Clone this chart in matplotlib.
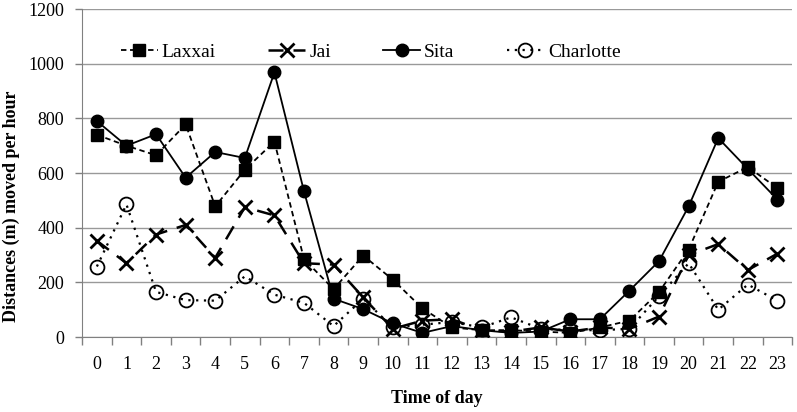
import matplotlib.pyplot as plt
import numpy as np

plt.rcParams['font.family'] = ['Liberation Serif', 'DejaVu Serif']

hours = list(range(24))
laxxai = [740, 700, 665, 778, 478, 612, 715, 285, 175, 298, 210, 105,
          35, 25, 25, 20, 15, 35, 60, 165, 320, 568, 622, 545]
jai = [352, 270, 375, 410, 290, 475, 445, 270, 265, 145, 30, 60,
       65, 25, 20, 35, 20, 35, 30, 75, 300, 340, 245, 305]
sita = [790, 700, 742, 583, 677, 655, 968, 533, 140, 102, 50, 15,
        40, 25, 15, 20, 65, 65, 170, 278, 478, 728, 615, 503]
charlotte = [258, 485, 165, 135, 133, 222, 155, 125, 40, 140, 35, 45,
             55, 35, 72, 30, 25, 25, 30, 150, 270, 100, 192, 133]

fig = plt.figure(figsize=(7.97, 4.12), dpi=100)
ax = fig.add_axes([0.103, 0.182, 0.891, 0.796])

x = np.array(hours)
ax.plot(x, laxxai, color='black', lw=1.3, ls=(0, (3, 2)), marker='s', ms=9,
        label='Laxxai', zorder=3)
ax.plot(x, jai, color='black', lw=1.8, ls=(0, (6, 4)), marker='x', ms=10, mew=2,
        label='Jai', zorder=3)
ax.plot(x, sita, color='black', lw=1.3, ls='-', marker='o', ms=9,
        label='Sita', zorder=3)
ax.plot(x, charlotte, color='black', lw=1.6, ls=(0, (1, 2.5)), marker='o', ms=10,
        mfc='none', mew=1.3, label='Charlotte', zorder=3)

# axes, grid
ax.set_xlim(-0.5, 23.5)
ax.set_ylim(0, 1200)
ax.set_yticks(np.arange(0, 1201, 200))
ax.set_xticks(x)
ax.set_xticklabels([str(h) for h in hours], fontsize=13)
ax.set_xticks(np.arange(-0.5, 24, 1), minor=True)
ax.tick_params(axis='x', which='major', length=0, pad=14)
ax.tick_params(axis='x', which='minor', length=6, color='#808080', width=1)
ax.tick_params(axis='y', length=5, color='#808080', width=1, labelsize=13, pad=8)
ax.yaxis.grid(True, color='#999999', lw=1)
ax.set_axisbelow(True)
for s in ['top', 'right']:
    ax.spines[s].set_visible(False)
for s in ['left', 'bottom']:
    ax.spines[s].set_color('#808080')

ax.set_xlabel('Time of day', fontsize=13, fontweight='bold', labelpad=12)
ax.set_ylabel('Distances (m) moved per hour', fontsize=13, fontweight='bold')
ax.yaxis.set_label_coords(-0.088, 0.4)

ax.legend(loc='upper left', bbox_to_anchor=(0.03, 0.95), ncol=4, frameon=False,
          fontsize=14, handlelength=1.9, columnspacing=2.7, handletextpad=0.2)

fig.savefig('out.png', dpi=100)
